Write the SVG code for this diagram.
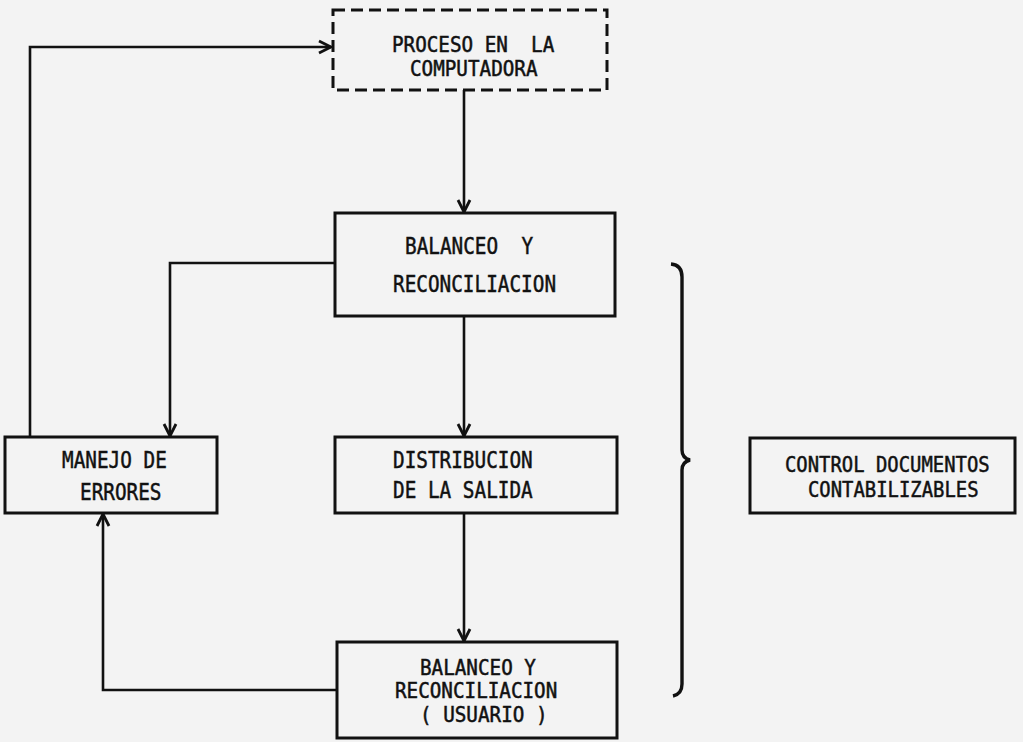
<svg xmlns="http://www.w3.org/2000/svg" width="1023" height="742" viewBox="0 0 1023 742">
<defs>
<marker id="arr" markerWidth="16" markerHeight="16" refX="14" refY="8" orient="auto" markerUnits="userSpaceOnUse">
<path d="M2,2 L14,8 L2,14" fill="none" stroke="#111" stroke-width="2.8"/>
</marker>
<style>
.box{fill:none;stroke:#111;stroke-width:3}
.dash{fill:none;stroke:#111;stroke-width:3;stroke-dasharray:12 6}
.ln{fill:none;stroke:#111;stroke-width:2.6}
text{font-family:"DejaVu Sans Mono","Liberation Mono",monospace;fill:#111;stroke:#111;stroke-width:0.5;white-space:pre}
.t23{font-size:23px}
.t21{font-size:21px}
.t20{font-size:20.5px}
</style>
</defs>
<rect width="1023" height="742" fill="#f3f3f3"/>
<g id="connectors">
<polyline class="ln" points="30,437 30,47 331,47" marker-end="url(#arr)"/>
<line class="ln" x1="464" y1="90" x2="464" y2="212" marker-end="url(#arr)"/>
<polyline class="ln" points="335,263 170,263 170,436" marker-end="url(#arr)"/>
<line class="ln" x1="464" y1="316" x2="464" y2="436" marker-end="url(#arr)"/>
<line class="ln" x1="464" y1="513" x2="464" y2="641" marker-end="url(#arr)"/>
<polyline class="ln" points="337,690 103,690 103,514" marker-end="url(#arr)"/>
<path d="M671,264 Q682,265 682,277 L682,450 Q682,458 690,460 Q682,462 682,470 L682,684 Q682,694 673,696" fill="none" stroke="#111" stroke-width="3.4"/>
</g>
<g id="n-proceso">
<rect class="dash" x="333" y="10" width="274" height="80"/>
<text class="t20" transform="translate(392,52) scale(0.94,1)" xml:space="preserve">PROCESO EN  LA</text>
<text class="t20" transform="translate(410,76) scale(0.94,1)">COMPUTADORA</text>
</g>
<g id="n-balanceo">
<rect class="box" x="335" y="213" width="280" height="103"/>
<text class="t23" transform="translate(405,254) scale(0.841,1)" xml:space="preserve">BALANCEO  Y</text>
<text class="t23" transform="translate(393,292) scale(0.841,1)">RECONCILIACION</text>
</g>
<g id="n-manejo">
<rect class="box" x="5" y="437" width="212" height="76"/>
<text class="t23" transform="translate(62,468) scale(0.841,1)">MANEJO DE</text>
<text class="t23" transform="translate(80,500) scale(0.841,1)">ERRORES</text>
</g>
<g id="n-distribucion">
<rect class="box" x="335" y="437" width="282" height="76"/>
<text class="t23" transform="translate(393,468) scale(0.841,1)">DISTRIBUCION</text>
<text class="t23" transform="translate(393,498) scale(0.841,1)">DE LA SALIDA</text>
</g>
<g id="n-usuario">
<rect class="box" x="337" y="642" width="280" height="96"/>
<text class="t20" transform="translate(420,675) scale(0.94,1)">BALANCEO Y</text>
<text class="t20" transform="translate(395,698) scale(0.94,1)">RECONCILIACION</text>
<text class="t20" transform="translate(420,722) scale(0.94,1)">( USUARIO )</text>
</g>
<g id="n-control">
<rect class="box" x="750" y="438" width="265" height="75"/>
<text class="t21" transform="translate(785,472) scale(0.90,1)">CONTROL DOCUMENTOS</text>
<text class="t21" transform="translate(808,497) scale(0.90,1)">CONTABILIZABLES</text>
</g>
</svg>
